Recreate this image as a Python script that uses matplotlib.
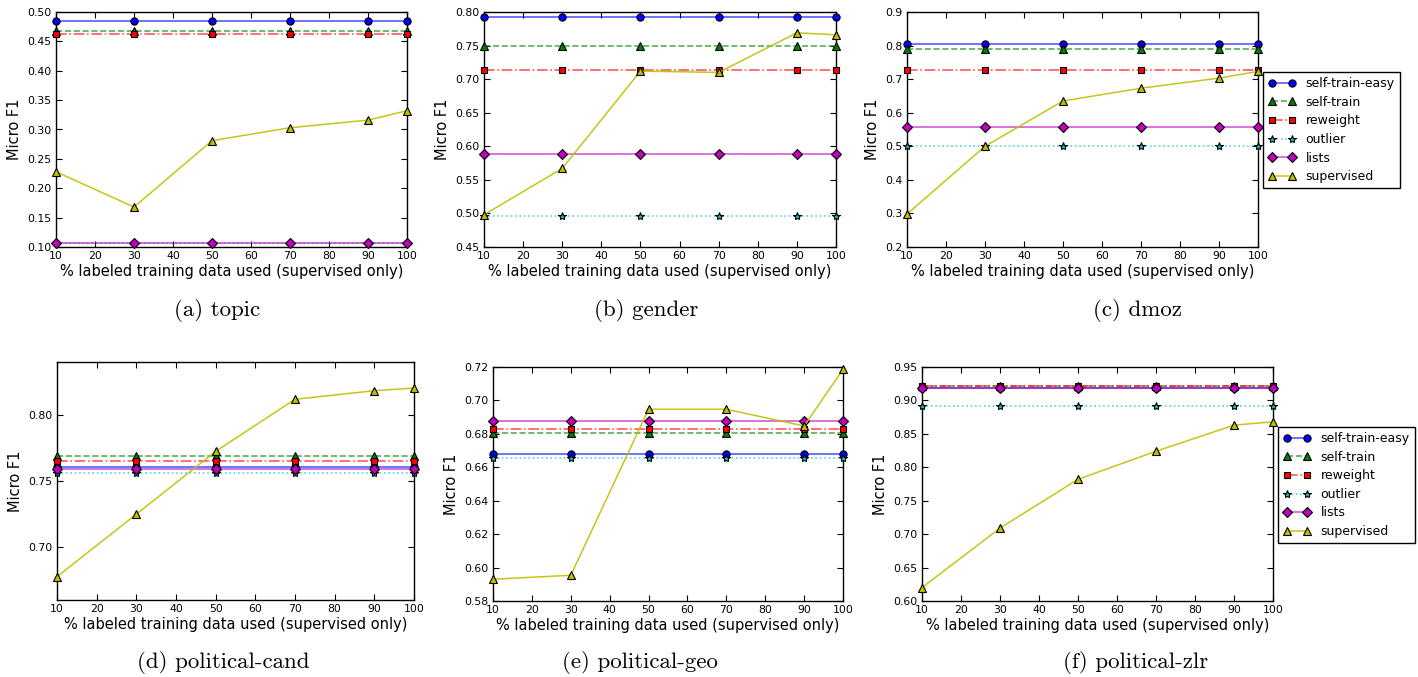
import matplotlib
matplotlib.use("Agg")
import matplotlib.pyplot as plt
from matplotlib.ticker import FormatStrFormatter

W, H = 1418, 677
x_pct = [10, 30, 50, 70, 90, 100]
x_ticks = [10, 20, 30, 40, 50, 60, 70, 80, 90, 100]

datasets = ["topic", "gender", "dmoz", "political-cand", "political-geo", "political-zlr"]
captions = ["(a) topic", "(b) gender", "(c) dmoz", "(d) political-cand", "(e) political-geo", "(f) political-zlr"]

# constant-baseline methods: one value per dataset
self_train_easy = [0.484, 0.7925, 0.806, 0.7608, 0.668, 0.919]
self_train      = [0.468, 0.749, 0.790, 0.7686, 0.6803, 0.921]
reweight        = [0.462, 0.713, 0.728, 0.7648, 0.6827, 0.922]
outlier         = [0.106, 0.496, 0.500, 0.7562, 0.6658, 0.891]
lists           = [0.107, 0.588, 0.556, 0.7590, 0.6877, 0.9186]

# supervised curve per dataset
supervised = [
    [0.228, 0.168, 0.281, 0.303, 0.316, 0.332],
    [0.498, 0.567, 0.712, 0.710, 0.769, 0.766],
    [0.298, 0.500, 0.635, 0.673, 0.703, 0.723],
    [0.6776, 0.7249, 0.7724, 0.8118, 0.8183, 0.8203],
    [0.593, 0.5954, 0.6947, 0.6947, 0.6847, 0.7186],
    [0.620, 0.709, 0.782, 0.824, 0.863, 0.868],
]

ylims = [(0.10, 0.50), (0.45, 0.80), (0.2, 0.9), (0.66, 0.84), (0.58, 0.72), (0.60, 0.95)]
yticks = [
    [0.10, 0.15, 0.20, 0.25, 0.30, 0.35, 0.40, 0.45, 0.50],
    [0.45, 0.50, 0.55, 0.60, 0.65, 0.70, 0.75, 0.80],
    [0.2, 0.3, 0.4, 0.5, 0.6, 0.7, 0.8, 0.9],
    [0.70, 0.75, 0.80],
    [0.58, 0.60, 0.62, 0.64, 0.66, 0.68, 0.70, 0.72],
    [0.60, 0.65, 0.70, 0.75, 0.80, 0.85, 0.90, 0.95],
]
yfmt = ["%.2f", "%.2f", "%.1f", "%.2f", "%.2f", "%.2f"]

# axes boxes in pixels: left, right, top, bottom
boxes = [(56, 407, 12, 247), (484, 836, 12, 247), (907, 1258, 12, 247),
         (57, 414, 362, 600), (493, 843, 367, 601), (922, 1273, 367, 601)]
caption_pos = [(217, 310), (646, 310), (1137, 310), (223, 663), (640, 663), (1136, 663)]

styles = [
    ("self-train-easy", self_train_easy, "b", "-", "o", 5.2),
    ("self-train", self_train, "g", "--", "^", 5.5),
    ("reweight", reweight, "r", "-.", "s", 5.0),
    ("outlier", outlier, "c", ":", "*", 6.0),
    ("lists", lists, "m", "-", "D", 5.5),
]
rgb = {"b": (0, 0, 1), "g": (0, 0.5, 0), "r": (1, 0, 0), "c": (0, 0.75, 0.75),
       "m": (0.75, 0, 0.75), "y": (0.75, 0.75, 0)}

fig = plt.figure(figsize=(W / 100, H / 100), dpi=100, facecolor="white")

for i in range(6):
    l, r, t, b = boxes[i]
    ax = fig.add_axes([l / W, 1 - b / H, (r - l) / W, (b - t) / H])
    for name, vals, c, ls, mk, ms in styles:
        col = rgb[c]
        ax.plot(x_pct, [vals[i]] * len(x_pct), linestyle=ls, marker=mk,
                color=col + (0.65,), lw=1.2, markerfacecolor=col,
                markeredgecolor="black", markeredgewidth=0.8,
                markersize=ms, label=name, clip_on=False, zorder=3)
    col = rgb["y"]
    ax.plot(x_pct, supervised[i], linestyle="-", marker="^", color=col + (0.9,), lw=1.1,
            markerfacecolor=col, markeredgecolor="black", markeredgewidth=0.8,
            markersize=5.5, label="supervised", clip_on=False, zorder=3)
    ax.set_xlim(10, 100)
    ax.set_ylim(*ylims[i])
    ax.set_xticks(x_ticks)
    ax.set_yticks(yticks[i])
    ax.yaxis.set_major_formatter(FormatStrFormatter(yfmt[i]))
    ax.tick_params(direction="in", top=True, right=True, length=4, width=0.8, labelsize=7.8, pad=3)
    for s in ax.spines.values():
        s.set_linewidth(1.0)
    ax.set_xlabel("% labeled training data used (supervised only)", fontsize=10.5, labelpad=2)
    ax.set_ylabel("Micro F1", fontsize=10.5, labelpad=4)
    cx, cy = caption_pos[i]
    fig.text(cx / W, 1 - cy / H, captions[i], ha="center", va="center",
             fontsize=16.5, family="cmr10")
    if i in (2, 5):
        anchor = (1263 / W, 1 - 72 / H) if i == 2 else (1278 / W, 1 - 427 / H)
        ax.legend(loc="upper left", bbox_to_anchor=anchor,
                  bbox_transform=fig.transFigure, fontsize=9, numpoints=2,
                  fancybox=False, edgecolor="black", framealpha=1,
                  handlelength=2.2, borderpad=0.4, labelspacing=0.45, borderaxespad=0)

fig.savefig("out.png", dpi=100, facecolor="white")
